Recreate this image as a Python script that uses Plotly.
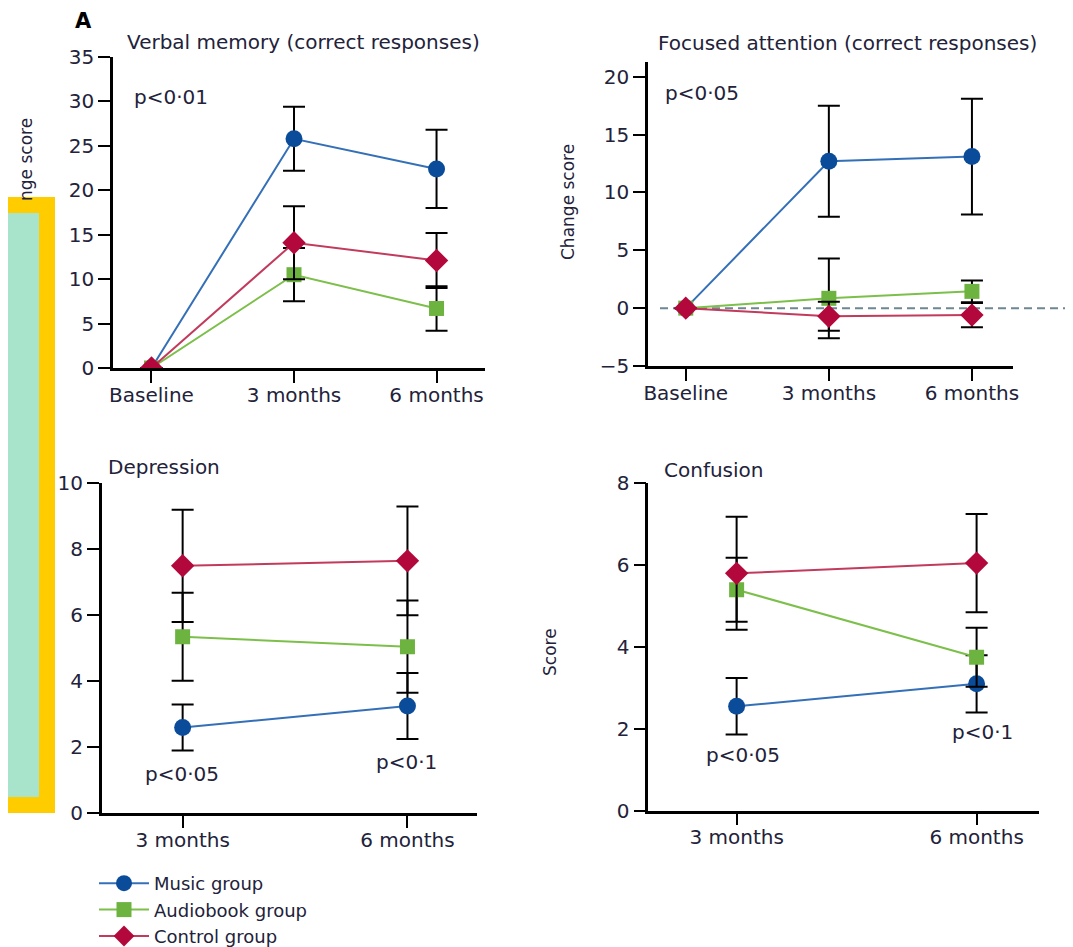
import plotly.graph_objects as go

# ---------------- data ----------------
categories_top = ["Baseline", "3 months", "6 months"]
categories_bottom = ["3 months", "6 months"]
group_names = ["Music group", "Audiobook group", "Control group"]

verbal_music = [0, 25.8, 22.4]
verbal_music_err = [0, 3.6, 4.4]
verbal_audio = [0, 10.5, 6.7]
verbal_audio_err = [0, 3.0, 2.5]
verbal_control = [0, 14.1, 12.1]
verbal_control_err = [0, 4.1, 3.1]

attention_music = [0, 12.7, 13.1]
attention_music_err = [0, 4.8, 5.0]
attention_audio = [0, 0.85, 1.45]
attention_audio_err = [0, 3.45, 0.95]
attention_control = [0, -0.7, -0.6]
attention_control_err = [0, 1.25, 1.05]

depression_music = [2.6, 3.25]
depression_music_err = [0.7, 1.0]
depression_audio = [5.35, 5.05]
depression_audio_err = [1.33, 1.4]
depression_control = [7.5, 7.65]
depression_control_err = [1.7, 1.65]

confusion_music = [2.55, 3.1]
confusion_music_err = [0.69, 0.7]
confusion_audio = [5.4, 3.75]
confusion_audio_err = [0.78, 0.72]
confusion_control = [5.8, 6.05]
confusion_control_err = [1.38, 1.2]

# ---------------- style ----------------
W, H = 1073, 947
OFF = 8  # page body margin offset
FONT = "DejaVu Sans"
TXT = "#22223a"
line_colors = ["#3470b8", "#7cbf4a", "#c23a5c"]
marker_colors = ["#0b4c9a", "#6cb33f", "#b3083b"]
symbols = ["circle", "square", "diamond"]
sizes = [17, 15, 18]


def px(x):
    return (x - OFF) / W


def py(y):
    return 1 - (y - OFF) / H


fig = go.Figure()

panels = [
    ("x", "y", categories_top,
     [(verbal_music, verbal_music_err), (verbal_audio, verbal_audio_err),
      (verbal_control, verbal_control_err)], True),
    ("x2", "y2", categories_top,
     [(attention_music, attention_music_err), (attention_audio, attention_audio_err),
      (attention_control, attention_control_err)], False),
    ("x3", "y3", categories_bottom,
     [(depression_music, depression_music_err), (depression_audio, depression_audio_err),
      (depression_control, depression_control_err)], False),
    ("x4", "y4", categories_bottom,
     [(confusion_music, confusion_music_err), (confusion_audio, confusion_audio_err),
      (confusion_control, confusion_control_err)], False),
]

for xa, ya, cats, series, show in panels:
    for i, (vals, errs) in enumerate(series):
        fig.add_trace(go.Scatter(
            x=cats, y=vals, xaxis=xa, yaxis=ya,
            mode="lines+markers", name=group_names[i], showlegend=show,
            line=dict(color=line_colors[i], width=2),
            marker=dict(symbol=symbols[i], size=sizes[i], color=marker_colors[i],
                        line=dict(width=0)),
            error_y=dict(type="data", array=errs, visible=True, color="black",
                         thickness=2, width=11),
            hoverinfo="skip",
        ))

axis_common = dict(showline=True, linecolor="black", linewidth=2.5, ticks="outside",
                   ticklen=12, tickwidth=2, tickcolor="black", showgrid=False,
                   zeroline=False, automargin=False,
                   tickfont=dict(family=FONT, size=20, color=TXT))
xaxis_common = dict(axis_common, ticklabelstandoff=-5)

fig.update_layout(
    width=W, height=H, margin=dict(l=0, r=0, t=0, b=0, autoexpand=False),
    paper_bgcolor="white", plot_bgcolor="rgba(0,0,0,0)",
    font=dict(family=FONT, color=TXT),
    xaxis=dict(domain=[px(113), px(485)], anchor="y", range=[-0.27, 2.34], **xaxis_common),
    yaxis=dict(domain=[py(368), py(57)], anchor="x", range=[0, 35], dtick=5, **axis_common),
    xaxis2=dict(domain=[px(648), px(1013)], anchor="y2", range=[-0.264, 2.287], **xaxis_common),
    yaxis2=dict(domain=[py(366), py(61.7)], anchor="x2", range=[-5, 21.3], dtick=5, tick0=0, **axis_common),
    xaxis3=dict(domain=[px(101.7), px(476.7)], anchor="y3", range=[-0.36, 1.308], **xaxis_common),
    yaxis3=dict(domain=[py(813.3), py(483.3)], anchor="x3", range=[0, 10], dtick=2, **axis_common),
    xaxis4=dict(domain=[px(648.3), px(1039)], anchor="y4", range=[-0.368, 1.26], **xaxis_common),
    yaxis4=dict(domain=[py(810.7), py(483.3)], anchor="x4", range=[0, 8], dtick=2, **axis_common),
    legend=dict(x=px(94), y=0, xanchor="left", yanchor="bottom",
                font=dict(family=FONT, size=18, color=TXT), bgcolor="rgba(0,0,0,0)",
                tracegroupgap=0, itemwidth=50),
)

# dashed zero line in focused attention panel
fig.add_shape(type="line", xref="paper", yref="y2", x0=px(660), x1=1.0, y0=0, y1=0,
              line=dict(color="#6d8793", width=2, dash="8px,5px"), layer="below")

# left-edge highlight box (cropping artefact in the reference)
fig.add_shape(type="rect", xref="paper", yref="paper", x0=px(0), x1=px(55), y0=py(813), y1=py(197),
              fillcolor="#ffcc00", line=dict(width=0), layer="above")
fig.add_shape(type="rect", xref="paper", yref="paper", x0=px(0), x1=px(39), y0=py(797), y1=py(213),
              fillcolor="#a8e3cc", line=dict(width=0), layer="above")


def ann(text, x, y, size=20, angle=0, xanchor="center", yanchor="middle", bold=False):
    fig.add_annotation(text=("<b>%s</b>" % text) if bold else text, x=px(x), y=py(y),
                       xref="paper", yref="paper", showarrow=False, textangle=angle,
                       xanchor=xanchor, yanchor=yanchor, borderpad=0,
                       font=dict(family=FONT, size=size, color=TXT if not bold else "black"))


ann("A", 83, 8, size=21, yanchor="top", bold=True)
ann("Verbal memory (correct responses)", 303, 42)
ann("Focused attention (correct responses)", 847, 43)
ann("Depression", 107, 467, xanchor="left")
ann("Confusion", 663, 470, xanchor="left")
ann("p&lt;0·01", 133, 97, xanchor="left")
ann("p&lt;0·05", 664, 93, xanchor="left")
ann("p&lt;0·05", 182, 774)
ann("p&lt;0·1", 406, 762)
ann("p&lt;0·05", 743, 755)
ann("p&lt;0·1", 982, 732)
ann("Change score", 568, 202, size=17, angle=-90)
ann("Score", 550, 652, size=17, angle=-90)
ann("nge score", 26, 160, size=17, angle=-90)

fig.write_html("out.html")
